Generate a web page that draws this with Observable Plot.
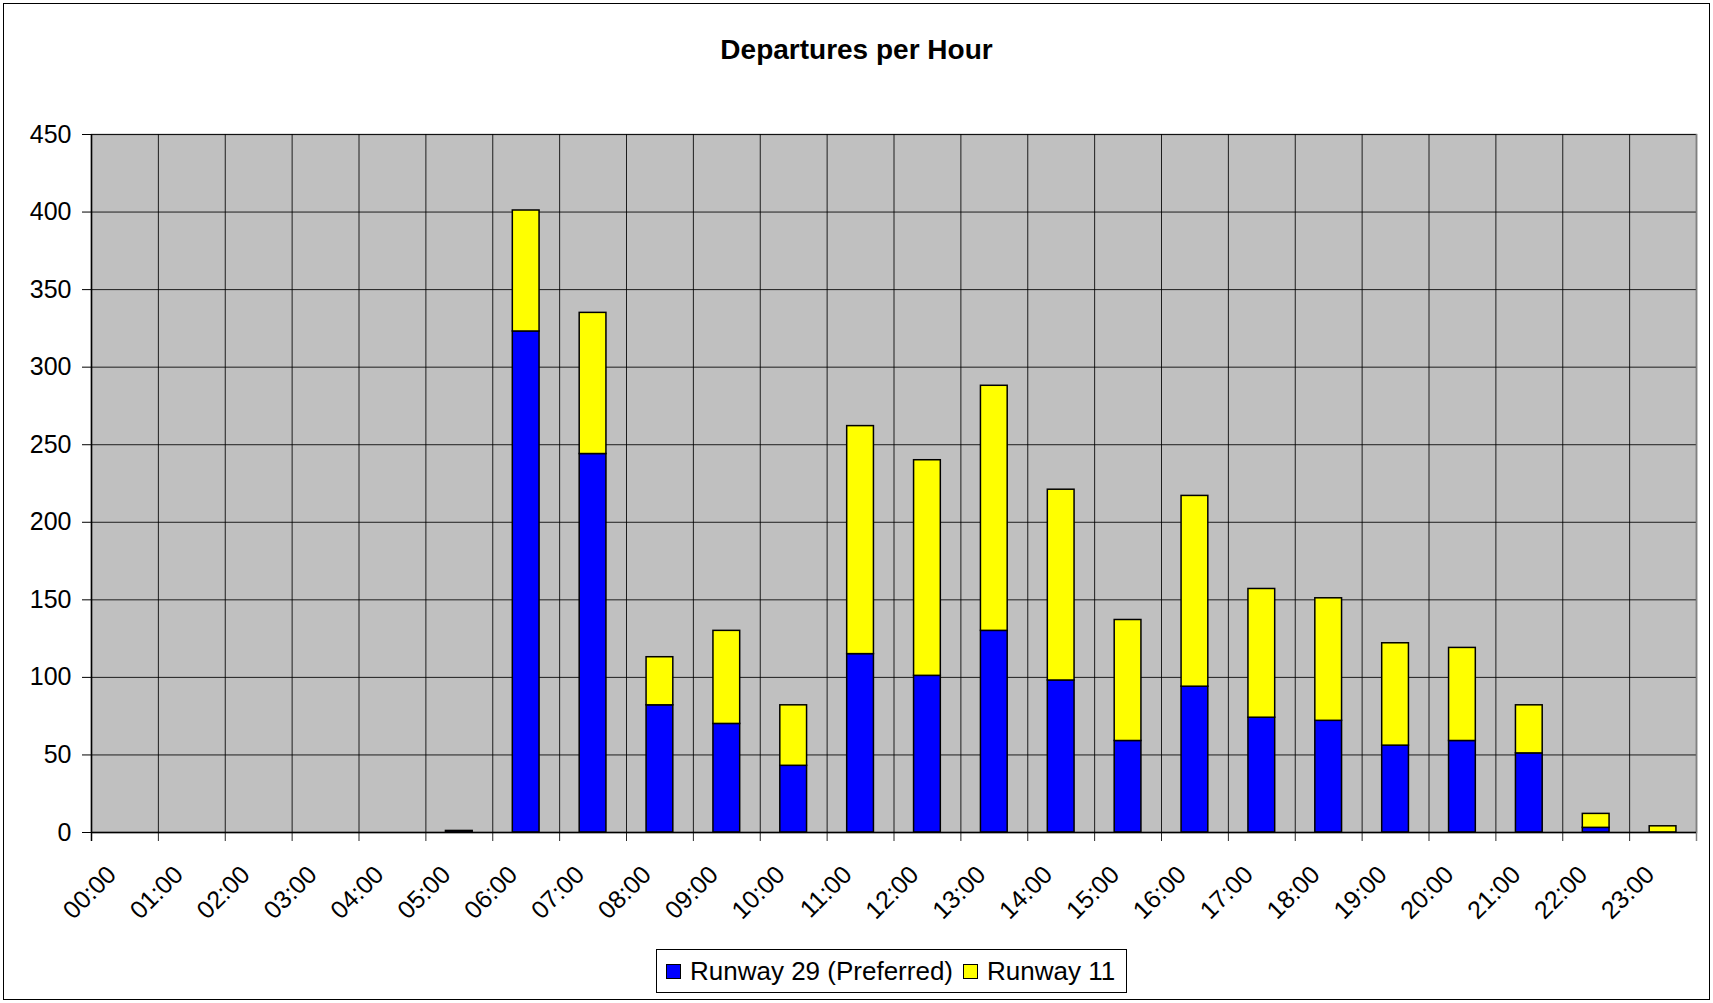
<!DOCTYPE html>
<html>
<head>
<meta charset="utf-8">
<script src="https://cdn.jsdelivr.net/npm/d3@7"></script>
<script src="https://cdn.jsdelivr.net/npm/@observablehq/plot@0.6"></script>
<style>
  html, body { margin: 0; padding: 0; background: #fff; }
  body { width: 1713px; height: 1003px; position: relative; overflow: hidden;
         font-family: Arial, "Liberation Sans", sans-serif; }
  #border { position: absolute; left: 3px; top: 3px; width: 1707px; height: 997px;
            border: 1.5px solid #000; box-sizing: border-box; }
  #title { position: absolute; left: 0; top: 34px; width: 1713px; text-align: center;
           font-weight: bold; font-size: 28px; line-height: 32px; color: #000; }
  #chart { position: absolute; left: 0; top: 100px; }
  #legend { position: absolute; left: 656px; top: 949px; width: 471px; height: 44px;
            border: 1px solid #000; box-sizing: border-box; display: flex; align-items: center;
            padding-left: 9px; font-size: 26px; color: #000; background: #fff; }
  .item { display: flex; align-items: center; gap: 9px; margin-right: 10px; white-space: nowrap; }
  .sw { width: 15px; height: 15px; border: 1.5px solid #000; box-sizing: border-box; display: inline-block; }
</style>
</head>
<body>
<div id="border"></div>
<div id="title">Departures per Hour</div>
<div id="chart"></div>
<div id="legend"></div>
<script>
const hours = ["00:00","01:00","02:00","03:00","04:00","05:00","06:00","07:00","08:00","09:00","10:00","11:00",
               "12:00","13:00","14:00","15:00","16:00","17:00","18:00","19:00","20:00","21:00","22:00","23:00"];
const runway29 = [0,0,0,0,0,1,323,244,82,70,43,115,101,130,98,59,94,74,72,56,59,51,3,0];
const runway11 = [0,0,0,0,0,0,78,91,31,60,39,147,139,158,123,78,123,83,79,66,60,31,9,4];
const seriesNames = ["Runway 29 (Preferred)", "Runway 11"];
const seriesColors = ["#0000ff", "#ffff00"];
const yTicks = [0,50,100,150,200,250,300,350,400,450];

const data = [];
hours.forEach((h, i) => {
  data.push({hour: h, runway: seriesNames[0], value: runway29[i]});
  data.push({hour: h, runway: seriesNames[1], value: runway11[i]});
});

const W = 1713, H = 849, mL = 91, mR = 17, mT = 34, mB = 117;
const bw = (W - mL - mR) / hours.length;
const inset = bw * 0.3;

const chart = Plot.plot({
  width: W, height: H,
  marginLeft: mL, marginRight: mR, marginTop: mT, marginBottom: mB,
  style: {fontFamily: "Arial, 'Liberation Sans', sans-serif", color: "#000", background: "transparent", overflow: "visible"},
  x: {type: "band", domain: hours, padding: 0, round: false},
  y: {domain: [0, 450]},
  color: {domain: seriesNames, range: seriesColors},
  marks: [
    Plot.frame({fill: "#c0c0c0", stroke: "#808080", strokeWidth: 1.5}),
    Plot.ruleY(yTicks, {stroke: "#000", strokeWidth: 1, strokeOpacity: 0.85}),
    Plot.ruleX(hours, {x: d => d, dx: -bw / 2, stroke: "#000", strokeWidth: 1, strokeOpacity: 0.85, insetBottom: -9}),
    Plot.ruleX([hours[hours.length - 1]], {x: d => d, dx: bw / 2, stroke: "#808080", strokeWidth: 1.5, insetBottom: -9}),
    Plot.barY(data, Plot.stackY({x: "hour", y: "value", fill: "runway", order: null,
      stroke: "#000", strokeWidth: 1.5, insetLeft: inset, insetRight: inset})),
    Plot.ruleY([0], {stroke: "#000", strokeWidth: 1.5}),
    Plot.ruleX([hours[0]], {x: d => d, dx: -bw / 2, stroke: "#000", strokeWidth: 1.5, insetBottom: -9}),
    Plot.axisY({ticks: yTicks, tickSize: 9, tickPadding: 11, fontSize: 25, tickFormat: d => d, stroke: "#000", label: null}),
    Plot.axisX({tickSize: 0, tickRotate: -45, tickPadding: 38, dx: -13, fontSize: 25, label: null})
  ]
});
document.getElementById("chart").appendChild(chart);

const legend = document.getElementById("legend");
seriesNames.forEach((n, i) => {
  const it = document.createElement("span");
  it.className = "item";
  const sw = document.createElement("span");
  sw.className = "sw";
  sw.style.background = seriesColors[i];
  it.appendChild(sw);
  it.appendChild(document.createTextNode(n));
  legend.appendChild(it);
});
</script>
</body>
</html>
